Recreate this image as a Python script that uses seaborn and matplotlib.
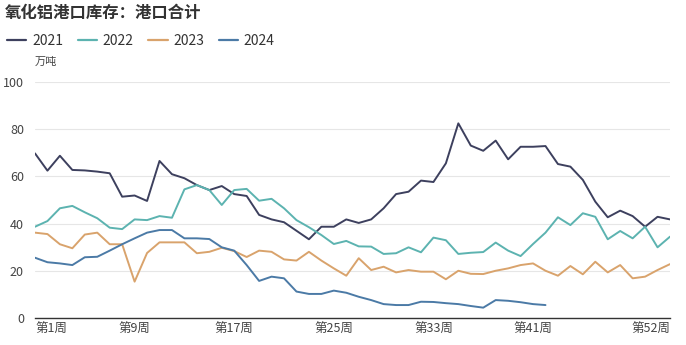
import matplotlib
matplotlib.use("Agg")
import matplotlib.pyplot as plt
import seaborn as sns
import pandas as pd
from matplotlib.lines import Line2D

# Weekly alumina port inventory, 10k tonnes
weeks = list(range(1, 53))

inv_2021 = [69.7, 62.4, 68.7, 62.7, 62.5, 62.0, 61.3, 51.4, 51.9, 49.6,
            66.5, 60.9, 59.2, 56.3, 54.2, 55.9, 52.5, 51.7, 43.7, 41.8,
            40.6, 37.0, 33.4, 38.7, 38.7, 41.8, 40.3, 41.8, 46.5, 52.5,
            53.5, 58.2, 57.6, 65.5, 82.4, 73.0, 70.8, 75.1, 67.2, 72.5,
            72.5, 72.8, 65.2, 64.1, 58.5, 49.3, 42.7, 45.5, 43.2, 38.7,
            42.9, 41.8]

inv_2022 = [38.7, 41.1, 46.5, 47.5, 44.8, 42.3, 38.3, 37.7, 41.8, 41.5,
            43.2, 42.5, 54.5, 56.3, 54.2, 47.9, 54.2, 54.7, 49.7, 50.5,
            46.5, 41.5, 38.5, 35.2, 31.4, 32.7, 30.4, 30.3, 27.2, 27.5,
            30.0, 27.9, 34.1, 33.0, 27.2, 27.7, 28.0, 32.0, 28.6, 26.3,
            31.4, 36.2, 42.7, 39.4, 44.4, 42.9, 33.4, 36.9, 33.8, 38.7,
            30.0, 34.5]

inv_2023 = [36.2, 35.6, 31.3, 29.6, 35.4, 36.2, 31.3, 31.3, 15.5, 27.6,
            32.1, 32.1, 32.1, 27.5, 28.1, 29.8, 28.4, 25.9, 28.6, 28.1,
            24.9, 24.4, 28.1, 24.4, 21.1, 18.0, 25.4, 20.4, 21.8, 19.4,
            20.4, 19.7, 19.7, 16.5, 20.1, 18.8, 18.7, 20.1, 21.1, 22.5,
            23.2, 20.1, 18.0, 22.1, 18.6, 23.9, 19.4, 22.5, 16.9, 17.6,
            20.4, 22.9]

inv_2024 = [25.6, 23.7, 23.2, 22.5, 25.8, 26.0, 28.6, 31.3, 33.8, 36.2,
            37.3, 37.3, 33.8, 33.8, 33.5, 30.0, 28.6, 22.5, 15.8, 17.6,
            16.9, 11.3, 10.3, 10.3, 11.7, 10.8, 9.1, 7.7, 6.0, 5.6,
            5.6, 7.0, 6.9, 6.4, 6.0, 5.2, 4.5, 7.7, 7.4, 6.8,
            6.0, 5.6]

years = ["2021", "2022", "2023", "2024"]
series = [inv_2021, inv_2022, inv_2023, inv_2024]
colors = ["#3d405e", "#5cb3b0", "#d9a36c", "#4b7aa6"]

tick_weeks = [1, 9, 17, 25, 33, 41, 52]
tick_labels = ["第1周", "第9周", "第17周", "第25周", "第33周", "第41周", "第52周"]

rows = []
for yr, vals in zip(years, series):
    for w, v in zip(weeks, vals):
        rows.append({"week": w, "value": v, "year": yr})
df = pd.DataFrame(rows)

sns.set_style("white")
plt.rcParams["font.family"] = ["Noto Sans CJK SC", "DejaVu Sans"]

fig = plt.figure(figsize=(6.86, 3.45), dpi=100)
ax = fig.add_axes([35 / 686, 1 - 318.3 / 345, 635 / 686, 236.6 / 345])

sns.lineplot(data=df, x="week", y="value", hue="year", hue_order=years,
             palette=dict(zip(years, colors)), linewidth=1.4, ax=ax,
             legend=False)

ax.set_xlim(1, 52)
ax.set_ylim(0, 100)
ax.set_yticks([0, 20, 40, 60, 80, 100])
ax.yaxis.grid(True, color="#e6e6e6", linewidth=0.8)
ax.set_axisbelow(True)
ax.set_xlabel("")
ax.set_ylabel("")

for side in ["left", "right", "top"]:
    ax.spines[side].set_visible(False)
ax.spines["bottom"].set_color("#333333")
ax.spines["bottom"].set_linewidth(1.0)

ax.set_xticks(tick_weeks)
ax.set_xticklabels(tick_labels)
ax.tick_params(axis="both", length=0, labelsize=9, labelcolor="#444444")
ax.tick_params(axis="x", pad=3)
ax.tick_params(axis="y", pad=8)
xt = ax.get_xticklabels()
xt[0].set_horizontalalignment("left")
xt[-1].set_horizontalalignment("right")

# Legend row
handles = [Line2D([0], [0], color=c, linewidth=1.6) for c in colors]
fig.legend(handles, years, loc="center left",
           bbox_to_anchor=(7 / 686, 1 - 41 / 345), ncol=4, frameon=False,
           fontsize=10, handlelength=1.4, handletextpad=0.4,
           columnspacing=1.05, borderaxespad=0, borderpad=0,
           labelcolor="#333333")

fig.text(5 / 686, 1 - 13 / 345, "氧化铝港口库存：港口合计", fontsize=11.8,
         fontweight="bold", color="#333333", ha="left", va="center")
fig.text(35 / 686, 1 - 62 / 345, "万吨", fontsize=8, color="#444444",
         ha="left", va="center")

fig.savefig("out.png", dpi=100)
